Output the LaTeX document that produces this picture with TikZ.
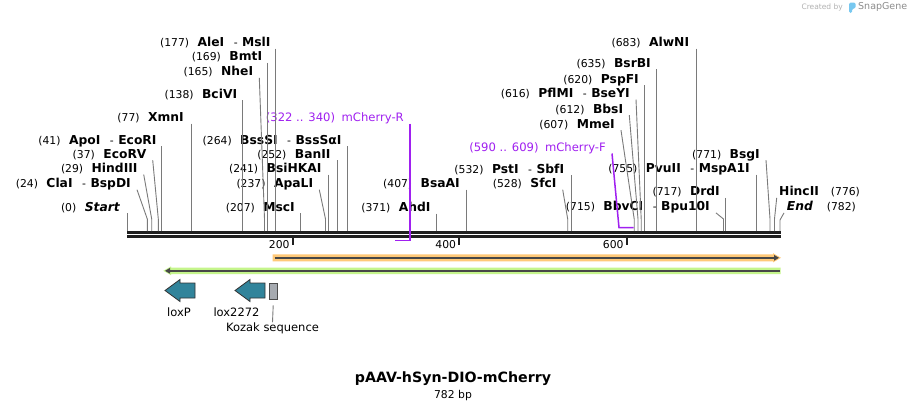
\documentclass[tikz,border=0pt]{standalone}
\usepackage{fontspec}
\setmainfont{DejaVu Sans}
\usetikzlibrary{arrows.meta}
\definecolor{primerc}{RGB}{160,32,240}
\definecolor{orfo}{RGB}{255,201,120}
\definecolor{orfg}{RGB}{197,245,140}
\definecolor{loxc}{RGB}{49,132,155}
\definecolor{kozc}{RGB}{166,170,176}
\definecolor{logoc}{RGB}{120,200,240}
\newcommand{\enz}[1]{{\fontsize{12.3}{13}\selectfont\bfseries #1}}
\newcommand{\lgap}{\hspace{8.5pt}}
\newcommand{\dsh}{\hspace{9.5pt}-\hspace{4.5pt}}
\begin{document}
\begin{tikzpicture}[x=1pt, y=-1pt,
  lbl/.style={inner sep=0pt, text height=10pt, text depth=2pt, font=\fontsize{10.8}{12}\selectfont},
  lbl l/.style={lbl, anchor=east},
  lbl r/.style={lbl, anchor=west},
  plbl/.style={lbl l, text=primerc, font=\fontsize{11.6}{13}\selectfont},
  site/.style={draw=black!52, line width=0.9pt},
  primer/.style={draw=primerc, line width=1.5pt},
  bb/.style={draw=black!88, line width=2.6pt},
  tick/.style={draw=black!88, line width=1.8pt},
  feat/.style={inner sep=0pt, font=\fontsize{11.5}{13}\selectfont},
  lox/.style={fill=loxc, draw=black!80, line width=0.8pt}]
\fill[white] (0,0) rectangle (908,410);
\useasboundingbox (0,0) rectangle (908,410);

% backbone and ruler
\coordinate (bbL) at (127,232.3);
\coordinate (bbR) at (780.5,232.3);
\draw[bb] (bbL) -- (bbR);
\draw[bb, line width=2.3pt] ([yshift=-4.2pt]bbL) -- ([yshift=-4.2pt]bbR);
\foreach \t/\x in {200/292.7, 400/459.3, 600/626.7} {
  \draw[tick] (\x,238) -- (\x,244.5);
  \node[lbl l] (t\t) at (\x-3,244.3) {\t};
}

% cut sites on the backbone
\coordinate (s0) at (127.3,231);
\coordinate (s24) at (147.3,231);
\coordinate (s29) at (151.7,231);
\coordinate (s37) at (158.3,231);
\coordinate (s41) at (161.3,231);
\coordinate (s77) at (191,231);
\coordinate (s138) at (242.3,231);
\coordinate (s165) at (264.5,231);
\coordinate (s169) at (267.5,231);
\coordinate (s177) at (275,231);
\coordinate (s207) at (300.7,231);
\coordinate (s237) at (325.5,231);
\coordinate (s241) at (328.3,231);
\coordinate (s252) at (337.3,231);
\coordinate (s264) at (347.7,231);
\coordinate (s371) at (436.7,231);
\coordinate (s407) at (466,231);
\coordinate (s528) at (567.7,231);
\coordinate (s532) at (571.7,231);
\coordinate (s607) at (634.2,231);
\coordinate (s612) at (638,231);
\coordinate (s616) at (641.2,231);
\coordinate (s620) at (644.3,231);
\coordinate (s635) at (656.3,231);
\coordinate (s683) at (696.7,231);
\coordinate (s715) at (723.5,231);
\coordinate (s717) at (725.7,231);
\coordinate (s755) at (756.3,231);
\coordinate (s771) at (770,231);
\coordinate (s776) at (774.5,231);
\coordinate (s782) at (780,231);

% left labels
\node[lbl l] (Start) at (120,207) {(0)\lgap\enz{\itshape Start}};
\node[lbl l] (ClaI) at (131,183.5) {(24)\lgap\enz{ClaI}\dsh\enz{BspDI}};
\node[lbl l] (HindIII) at (137.7,168.3) {(29)\lgap\enz{HindIII}};
\node[lbl l] (EcoRV) at (146.7,154) {(37)\lgap\enz{EcoRV}};
\node[lbl l] (ApoI) at (156.7,140) {(41)\lgap\enz{ApoI}\dsh\enz{EcoRI}};
\node[lbl l] (XmnI) at (184,117.3) {(77)\lgap\enz{XmnI}};
\node[lbl l] (BciVI) at (237.3,94) {(138)\lgap\enz{BciVI}};
\node[lbl l] (NheI) at (253.3,71.7) {(165)\lgap\enz{NheI}};
\node[lbl l] (BmtI) at (262.3,56.7) {(169)\lgap\enz{BmtI}};
\node[lbl l] (AleI) at (270.7,42.3) {(177)\lgap\enz{AleI}\dsh\enz{MslI}};
\node[lbl l] (MscI) at (295,207) {(207)\lgap\enz{MscI}};
\node[lbl l] (ApaLI) at (313.3,183.5) {(237)\lgap\enz{ApaLI}};
\node[lbl l] (BsiHKAI) at (321.7,168.5) {(241)\lgap\enz{BsiHKAI}};
\node[lbl l] (BanII) at (330.7,154) {(252)\lgap\enz{BanII}};
\node[lbl l] (BssSI) at (341.7,140) {(264)\lgap\enz{BssSI}\dsh\enz{BssSαI}};
\node[plbl] (mCherryR) at (404,117.3) {(322 .. 340)\hspace{6.5pt}mCherry-R};
\node[lbl l] (AhdI) at (430.7,207.3) {(371)\lgap\enz{AhdI}};
\node[lbl l] (BsaAI) at (460,183.5) {(407)\lgap\enz{BsaAI}};
\node[lbl l] (SfcI) at (556.7,183.5) {(528)\lgap\enz{SfcI}};
\node[lbl l] (PstI) at (564.3,169) {(532)\lgap\enz{PstI}\dsh\enz{SbfI}};
\node[plbl] (mCherryF) at (606,147.3) {(590 .. 609)\hspace{6.5pt}mCherry-F};
\node[lbl l] (MmeI) at (615,124) {(607)\lgap\enz{MmeI}};
\node[lbl l] (BbsI) at (623.3,109) {(612)\lgap\enz{BbsI}};
\node[lbl l] (PflMI) at (630,93.3) {(616)\lgap\enz{PflMI}\dsh\enz{BseYI}};
\node[lbl l] (PspFI) at (639,79) {(620)\lgap\enz{PspFI}};
\node[lbl l] (BsrBI) at (651,63) {(635)\lgap\enz{BsrBI}};
\node[lbl l] (AlwNI) at (689.3,42.3) {(683)\lgap\enz{AlwNI}};
\node[lbl l] (BbvCI) at (710,206.7) {(715)\lgap\enz{BbvCI}\dsh\enz{Bpu10I}};
\node[lbl l] (DrdI) at (720,191.7) {(717)\lgap\enz{DrdI}};
\node[lbl l] (PvuII) at (750,168.3) {(755)\lgap\enz{PvuII}\dsh\enz{MspA1I}};
\node[lbl l] (BsgI) at (760,154) {(771)\lgap\enz{BsgI}};
% right labels
\node[lbl r] (HincII) at (779,191.7) {\enz{HincII}\hspace{12pt}(776)};
\node[lbl r] (End) at (786.7,206.7) {\enz{\itshape End}\hspace{14pt}(782)};

% straight site lines
\foreach \s/\n in {0/Start, 41/ApoI, 77/XmnI, 138/BciVI, 169/BmtI, 177/AleI, 207/MscI,
    241/BsiHKAI, 252/BanII, 264/BssSI, 371/AhdI, 407/BsaAI, 532/PstI, 620/PspFI,
    635/BsrBI, 683/AlwNI, 717/DrdI, 755/PvuII}
  \draw[site] (s\s |- \n.south) -- (s\s);
% bent site lines
\foreach \s/\n in {24/ClaI, 29/HindIII, 37/EcoRV, 165/NheI, 237/ApaLI, 528/SfcI,
    607/MmeI, 612/BbsI, 616/PflMI, 715/BbvCI, 771/BsgI}
  \draw[site] ([xshift=6pt]\n.south east) -- ([yshift=12pt]s\s) -- (s\s);
\draw[site] ([xshift=-2.3pt]HincII.south west) -- ([yshift=12pt]s776) -- (s776);
\draw[site] ([xshift=-2.7pt]End.south west) -- ([yshift=11pt]s782) -- (s782);

% primers
\coordinate (pR0) at (395,240.7);
\coordinate (pR1) at (410,240.7);
\draw[primer] (pR1 |- mCherryR.south) -- (pR1) -- (pR0);
\coordinate (pF0) at (619,227.7);
\coordinate (pF1) at (633.5,227.7);
\draw[primer] ([xshift=6pt]mCherryF.south east) -- (pF0) -- (pF1);

% ORFs
\fill[orfo] (272.7,254.3) -- (773,254.3) -- (773,253.2) -- (781,257.8) -- (773,262.4) -- (773,261.3) -- (272.7,261.3) -- cycle;
\draw[line width=2.3pt, draw=black!72, -{Triangle[length=5pt,width=5.5pt]}] (274.5,257.8) -- (779,257.8);
\fill[orfg] (780.7,267.6) -- (171,267.6) -- (171,266.4) -- (163.3,270.8) -- (171,275.2) -- (171,274) -- (780.7,274) -- cycle;
\draw[line width=2.1pt, draw=black!72, -{Triangle[length=5pt,width=5.5pt]}] (779.5,270.8) -- (165,270.8);

% features
\draw[lox] (195,283) -- (180,283) -- (180,279.5) -- (165,290.5) -- (180,301.5) -- (180,298) -- (195,298) -- cycle;
\draw[lox] (265,283) -- (250,283) -- (250,279.5) -- (235,290.5) -- (250,301.5) -- (250,298) -- (265,298) -- cycle;
\node[draw=black!70, fill=kozc, line width=0.8pt, minimum width=8.3pt, minimum height=15.7pt, inner sep=0pt] (kozak) at (273.2,291.2) {};
\node[feat] (loxPLbl) at (179,312.7) {loxP};
\node[feat] (lox2272Lbl) at (236.5,312.7) {lox2272};
\node[feat] (kozakLbl) at (272.5,328) {Kozak sequence};
\draw[site] ([yshift=-6pt]kozak.south) -- (kozakLbl.north);

% title
\node[inner sep=0pt, font=\fontsize{14.2}{16}\selectfont\bfseries] (title) at (453,379) {pAAV-hSyn-DIO-mCherry};
\node[lbl] (size) at (453,394) {782 bp};

% watermark
\node[inner sep=0pt, anchor=east, text=black!30, font=\fontsize{7.5}{8}\selectfont] (wmA) at (843,7) {Created by};
\fill[logoc, rounded corners=1.5pt] (849,2.5) -- (855.5,2.5) -- (855.5,8.5) -- (852,8.5) -- (852,13) -- (849,13) -- cycle;
\node[inner sep=0pt, anchor=west, text=black!45, font=\fontsize{9.5}{10}\selectfont] (wmB) at (858,7) {SnapGene};
\end{tikzpicture}
\end{document}
